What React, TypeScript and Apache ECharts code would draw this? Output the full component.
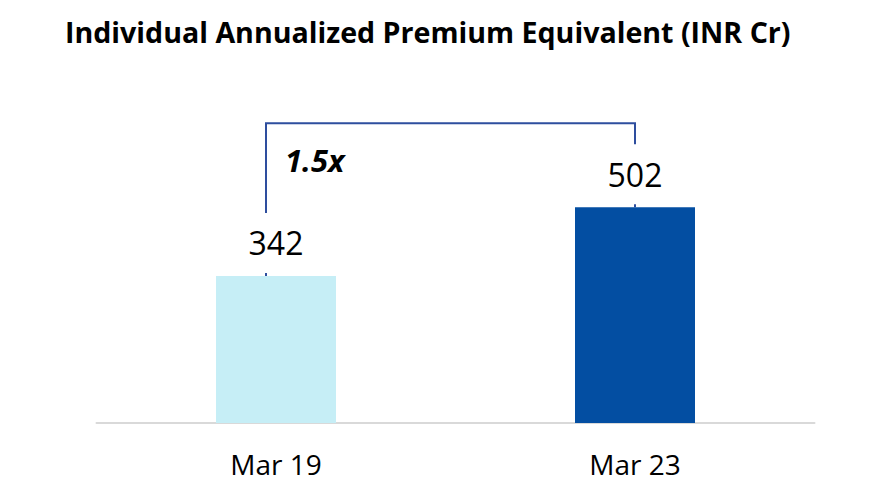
import React, { useEffect, useRef } from "react";
import * as echarts from "echarts";

const TITLE = "Individual Annualized Premium Equivalent (INR Cr)";
const categories = ["Mar 19", "Mar 23"];
const values = [342, 502];
const barColors = ["#c6eef6", "#034ea2"];
const growthLabel = "1.5x";

export default function App() {
  const ref = useRef<HTMLDivElement>(null);
  useEffect(() => {
    if (!ref.current) return;
    const chart = echarts.init(ref.current, null, { renderer: "svg" });
    const font = "'Open Sans', 'Noto Sans', sans-serif";
    chart.setOption({
      animation: false,
      title: {
        text: TITLE,
        left: 60,
        top: 12,
        textStyle: { fontFamily: font, fontWeight: "bold", fontSize: 28.6, color: "#000" },
      },
      grid: { left: 96.5, right: 81.5, top: 165, bottom: 61, containLabel: false },
      xAxis: {
        type: "category",
        data: categories,
        axisLine: { lineStyle: { color: "#d9d9d9", width: 2 } },
        axisTick: { show: false },
        axisLabel: { fontFamily: font, fontSize: 28, lineHeight: 28, color: "#000", margin: 27 },
      },
      yAxis: { type: "value", min: 0, max: 600, show: false, splitLine: { show: false } },
      series: [
        {
          type: "bar",
          barWidth: 120,
          data: values.map((v, i) => ({ value: v, itemStyle: { color: barColors[i] } })),
          label: {
            show: true,
            position: "top",
            distance: 3,
            fontFamily: font,
            fontSize: 32,
            color: "#000",
            backgroundColor: "#fff",
            padding: [14, 6, 14, 6],
          },
          z: 3,
        },
      ],
    });
    const p0 = chart.convertToPixel({ xAxisIndex: 0, yAxisIndex: 0 }, [0, values[0]]) as number[];
    const p1 = chart.convertToPixel({ xAxisIndex: 0, yAxisIndex: 0 }, [1, values[1]]) as number[];
    const topY = Math.min(p0[1], p1[1]) - 84;
    const lx = p0[0] - 10;
    const rx = p1[0];
    chart.setOption({
      graphic: [
        {
          type: "polyline",
          z: 1,
          shape: { points: [[lx, p0[1]], [lx, topY], [rx, topY], [rx, p1[1]]] },
          style: { stroke: "#2e4e9e", lineWidth: 2, fill: null },
        },
        {
          type: "text",
          z: 5,
          x: lx + 19,
          y: topY + 37,
          style: {
            text: growthLabel,
            fontFamily: font,
            fontWeight: "bold",
            fontStyle: "italic",
            fontSize: 31,
            fill: "#000",
            verticalAlign: "middle",
          },
        },
      ],
    });
    return () => chart.dispose();
  }, []);
  return (
    <div
      ref={ref}
      style={{ position: "absolute", left: 0, top: 0, width: 896, height: 484, overflow: "hidden" }}
    />
  );
}
